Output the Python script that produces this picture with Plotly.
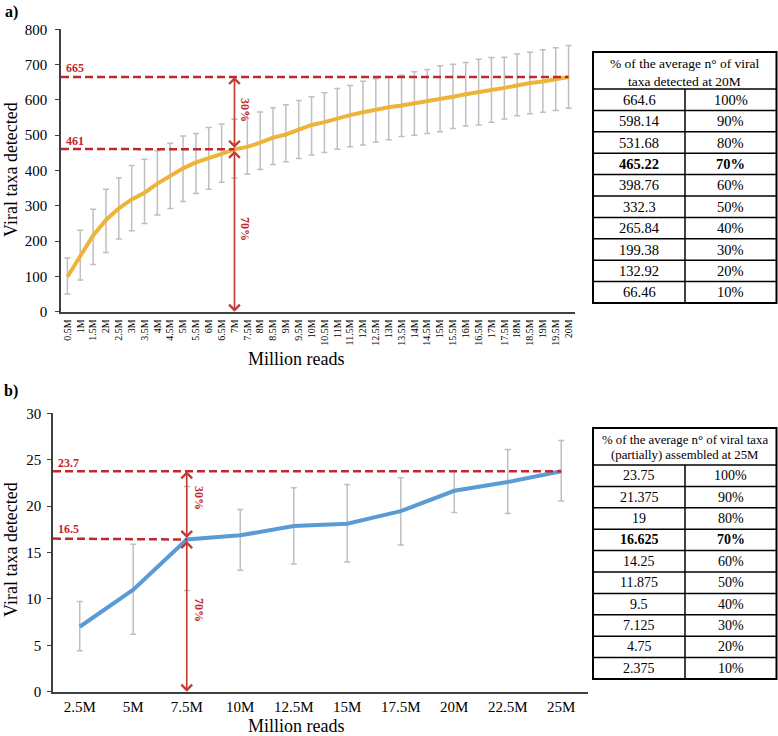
import plotly.graph_objects as go
import numpy as np

W, H = 778, 736
FONT = "Liberation Serif, Times New Roman, serif"
RED = "#C0282D"
ARROW_RED = "#C23A32"
GOLD = "#EDB43A"
BLUE = "#5B9BD5"
GRAY = "#BFBFBF"
AXIS = "#404040"

# ---------------- Panel a data ----------------
reads_a = ["0.5M", "1M", "1.5M", "2M", "2.5M", "3M", "3.5M", "4M", "4.5M", "5M",
           "5.5M", "6M", "6.5M", "7M", "7.5M", "8M", "8.5M", "9M", "9.5M", "10M",
           "10.5M", "11M", "11.5M", "12M", "12.5M", "13M", "13.5M", "14M", "14.5M", "15M",
           "15.5M", "16M", "16.5M", "17M", "17.5M", "18M", "18.5M", "19M", "19.5M", "20M"]
mean_a = [99, 156, 216, 260, 293, 318, 337, 363, 384, 406,
          423, 434, 447, 460, 467, 479, 493, 502, 516, 529,
          537, 548, 557, 565, 573, 579, 584, 590, 595, 602,
          609, 616, 621, 628, 634, 642, 648, 652, 658, 664.6]
upper_a = [152, 231, 290, 347, 379, 414, 432, 456, 477, 498,
           505, 522, 532, 545, 560, 566, 578, 586, 598, 609,
           620, 632, 641, 653, 660, 664, 670, 680, 686, 697,
           701, 706, 715, 720, 721, 730, 735, 742, 748, 754]
lower_a = [50, 90, 134, 168, 206, 229, 250, 274, 292, 312,
           335, 347, 367, 378, 390, 403, 417, 425, 434, 444,
           451, 460, 467, 472, 481, 487, 496, 500, 505, 510,
           519, 526, 529, 537, 546, 555, 561, 565, 570, 576]
ref_a_full = 665
ref_a_70 = 461
ref_a_label_full = "665"
ref_a_label_70 = "461"
ref_a_read = "7M"

# ---------------- Panel b data ----------------
reads_b = ["2.5M", "5M", "7.5M", "10M", "12.5M", "15M", "17.5M", "20M", "22.5M", "25M"]
mean_b = [7.0, 11.0, 16.4, 16.85, 17.85, 18.1, 19.45, 21.65, 22.6, 23.75]
upper_b = [9.73, 15.9, 22.1, 19.64, 21.97, 22.33, 23.05, 23.8, 26.1, 27.07]
lower_b = [4.42, 6.2, 10.9, 13.1, 13.75, 13.97, 15.8, 19.32, 19.2, 20.54]
ref_b_full = 23.75
ref_b_70 = 16.5
ref_b_label_full = "23.7"
ref_b_label_70 = "16.5"
ref_b_read = "7.5M"

# ---------------- Tables ----------------
table_a_header = ["% of the average n° of viral", "taxa detected at 20M"]
table_a_values = ["664.6", "598.14", "531.68", "465.22", "398.76", "332.3",
                  "265.84", "199.38", "132.92", "66.46"]
table_b_header = ["% of the average n° of viral taxa", "(partially) assembled at 25M"]
table_b_values = ["23.75", "21.375", "19", "16.625", "14.25", "11.875",
                  "9.5", "7.125", "4.75", "2.375"]
table_pcts = ["100%", "90%", "80%", "70%", "60%", "50%", "40%", "30%", "20%", "10%"]
bold_row = 3


def px(x):
    return x / W


def py(y):
    return 1 - y / H


fig = go.Figure()

ma = np.array(mean_a)
fig.add_trace(go.Scatter(
    x=reads_a, y=mean_a, mode="lines",
    line=dict(color=GOLD, width=4),
    error_y=dict(type="data", symmetric=False,
                 array=np.array(upper_a) - ma, arrayminus=ma - np.array(lower_a),
                 color=GRAY, thickness=1.5, width=3),
    xaxis="x", yaxis="y", showlegend=False, hoverinfo="skip"))

mb = np.array(mean_b)
fig.add_trace(go.Scatter(
    x=reads_b, y=mean_b, mode="lines",
    line=dict(color=BLUE, width=4),
    error_y=dict(type="data", symmetric=False,
                 array=np.array(upper_b) - mb, arrayminus=mb - np.array(lower_b),
                 color=GRAY, thickness=1.5, width=3),
    xaxis="x2", yaxis="y2", showlegend=False, hoverinfo="skip"))

axis_common = dict(showline=True, linecolor=AXIS, linewidth=1.5, showgrid=False,
                   zeroline=False, tickfont=dict(family=FONT, size=15, color="black"))

fig.update_layout(
    width=W, height=H,
    margin=dict(l=0, r=0, t=0, b=0, autoexpand=False),
    paper_bgcolor="white", plot_bgcolor="white",
    font=dict(family=FONT, color="black"),
    xaxis=dict(domain=[px(61), px(575)], type="category", anchor="y",
               range=[-0.5, len(reads_a) - 0.5], ticks="", tickangle=-90,
               ticklabelstandoff=2,
               **{**axis_common, "tickfont": dict(family=FONT, size=10, color="black")}),
    yaxis=dict(domain=[py(311.7), py(29.3)], range=[0, 800], dtick=100, anchor="x",
               ticks="outside", ticklen=4, tickcolor=AXIS, tickwidth=1.2,
               ticklabelstandoff=5, **axis_common),
    xaxis2=dict(domain=[px(53), px(588)], type="category", anchor="y2",
                range=[-0.5, len(reads_b) - 0.5], ticks="", ticklabelstandoff=1,
                **axis_common),
    yaxis2=dict(domain=[py(691.7), py(413.3)], range=[0, 30], dtick=5, anchor="x2",
                ticks="outside", ticklen=4, tickcolor=AXIS, tickwidth=1.2,
                ticklabelstandoff=3, **axis_common),
)

shapes = []
annotations = []


def ref_lines(xr, yr, reads, means, full, r70, lab_full, lab_70, read_at, ypx_full, ypx_70,
              pct30_y, pct70_y, xlab, xpct):
    i = reads.index(read_at)
    last = len(reads) - 1
    dash = dict(color=RED, width=2.5, dash="8px,4px")
    shapes.append(dict(type="line", xref=xr, yref=yr, x0=-0.5, x1=last,
                       y0=full, y1=full, line=dash))
    shapes.append(dict(type="line", xref=xr, yref=yr, x0=-0.5, x1=i,
                       y0=r70, y1=means[i], line=dash))
    for (yh, yt) in [(full, means[i]), (0, means[i])]:
        annotations.append(dict(xref=xr, yref=yr, axref=xr, ayref=yr,
                                x=i, y=yh, ax=i, ay=yt, text="", showarrow=True,
                                arrowhead=4, startarrowhead=4, arrowside="end+start",
                                arrowsize=1.3, startarrowsize=1.3, arrowwidth=1.6,
                                arrowcolor=ARROW_RED, standoff=0, startstandoff=0))
    lf = dict(family=FONT, size=12, color=RED)
    annotations.append(dict(xref="paper", yref="paper", x=px(xlab), y=py(ypx_full),
                            text="<b>%s</b>" % lab_full, showarrow=False, font=lf,
                            xanchor="center", yanchor="middle"))
    annotations.append(dict(xref="paper", yref="paper", x=px(xlab), y=py(ypx_70),
                            text="<b>%s</b>" % lab_70, showarrow=False, font=lf,
                            xanchor="center", yanchor="middle"))
    annotations.append(dict(xref="paper", yref="paper", x=px(xpct), y=py(pct30_y),
                            text="<b>30%</b>", showarrow=False, font=lf, textangle=90,
                            xanchor="center", yanchor="middle"))
    annotations.append(dict(xref="paper", yref="paper", x=px(xpct), y=py(pct70_y),
                            text="<b>70%</b>", showarrow=False, font=lf, textangle=90,
                            xanchor="center", yanchor="middle"))


ref_lines("x", "y", reads_a, mean_a, ref_a_full, ref_a_70, ref_a_label_full,
          ref_a_label_70, ref_a_read, 68, 141, 110, 229, 74.5, 245)
ref_lines("x2", "y2", reads_b, mean_b, ref_b_full, ref_b_70, ref_b_label_full,
          ref_b_label_70, ref_b_read, 463, 529, 498, 610, 68, 199)

tf = dict(family=FONT, size=18, color="black")
for (x, y, t, ang) in [(11, 170, "Viral taxa detected", -90),
                       (296, 359, "Million reads", 0),
                       (11, 550, "Viral taxa detected", -90),
                       (296, 726, "Million reads", 0)]:
    annotations.append(dict(xref="paper", yref="paper", x=px(x), y=py(y), text=t,
                            showarrow=False, font=tf, textangle=ang,
                            xanchor="center", yanchor="middle"))
for (x, y, t) in [(11, 12, "a)"), (11, 391, "b)")]:
    annotations.append(dict(xref="paper", yref="paper", x=px(x), y=py(y),
                            text="<b>%s</b>" % t, showarrow=False,
                            font=dict(family=FONT, size=16, color="black"),
                            xanchor="center", yanchor="middle"))


def draw_table(top, hbot, header, values, hsize, vsize, hl1, hl2):
    left, right, mid = 593, 776.5, 685
    rowh = 21.4
    bottom = hbot + rowh * len(values)
    lw = dict(color="black", width=1.5)
    shapes.append(dict(type="rect", xref="paper", yref="paper",
                       x0=px(left), x1=px(right), y0=py(bottom), y1=py(top),
                       line=dict(color="black", width=2)))
    for k in range(len(values)):
        yy = hbot + rowh * k
        shapes.append(dict(type="line", xref="paper", yref="paper",
                           x0=px(left), x1=px(right), y0=py(yy), y1=py(yy), line=lw))
    shapes.append(dict(type="line", xref="paper", yref="paper",
                       x0=px(mid), x1=px(mid), y0=py(hbot), y1=py(bottom), line=lw))
    hf = dict(family=FONT, size=hsize, color="black")
    for (yy, t) in [(hl1, header[0]), (hl2, header[1])]:
        annotations.append(dict(xref="paper", yref="paper", x=px((left + right) / 2),
                                y=py(yy), text=t, showarrow=False, font=hf,
                                xanchor="center", yanchor="middle"))
    vf = dict(family=FONT, size=vsize, color="black")
    for k, (v, p) in enumerate(zip(values, table_pcts)):
        yy = hbot + rowh * (k + 0.5)
        if k == bold_row:
            v, p = "<b>%s</b>" % v, "<b>%s</b>" % p
        annotations.append(dict(xref="paper", yref="paper", x=px((left + mid) / 2),
                                y=py(yy), text=v, showarrow=False, font=vf,
                                xanchor="center", yanchor="middle"))
        annotations.append(dict(xref="paper", yref="paper", x=px((mid + right) / 2),
                                y=py(yy), text=p, showarrow=False, font=vf,
                                xanchor="center", yanchor="middle"))


draw_table(52, 89, table_a_header, table_a_values, 13.5, 14.5, 63.5, 81.5)
draw_table(428, 465, table_b_header, table_b_values, 12.8, 14, 440.5, 455)

fig.update_layout(shapes=shapes, annotations=annotations)
# remove the browser's default 8px body margin so the figure fills the window exactly
fig.write_html("out.html",
               config={"displayModeBar": False},
               post_script="document.body.style.margin='0';document.body.style.overflow='hidden';")
